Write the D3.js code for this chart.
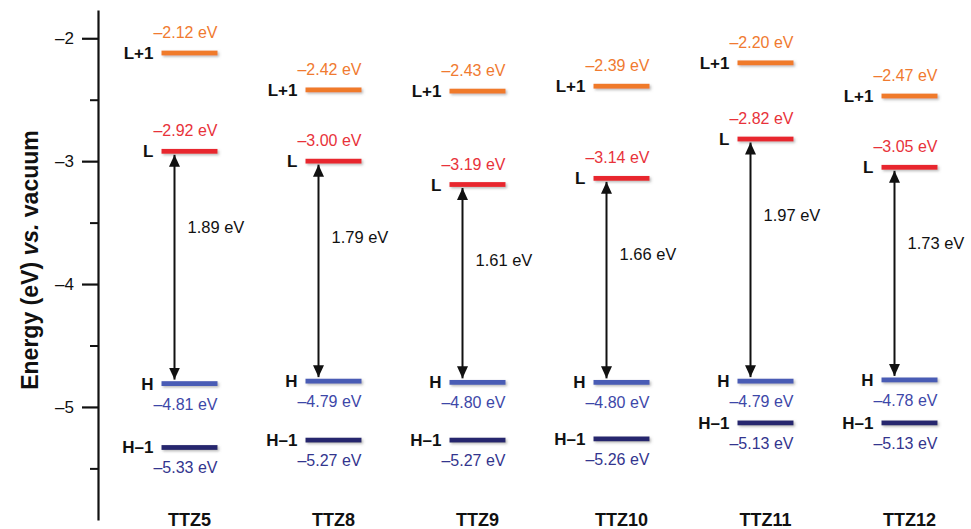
<!DOCTYPE html>
<html>
<head>
<meta charset="utf-8">
<script src="https://cdn.jsdelivr.net/npm/d3@7"></script>
<style>
  body { margin: 0; background: #fff; }
  svg { font-family: Arial, "Liberation Sans", sans-serif; }
</style>
</head>
<body>
<svg id="chart" width="971" height="529"></svg>
<script>
// molecules along the x axis
var molecules = ["TTZ5", "TTZ8", "TTZ9", "TTZ10", "TTZ11", "TTZ12"];

// orbital energies (eV)
var lumoPlus1 = [-2.12, -2.42, -2.43, -2.39, -2.20, -2.47];
var lumo = [-2.92, -3.00, -3.19, -3.14, -2.82, -3.05];
var homo = [-4.81, -4.79, -4.80, -4.80, -4.79, -4.78];
var homoMinus1 = [-5.33, -5.27, -5.27, -5.26, -5.13, -5.13];
var gaps = [1.89, 1.79, 1.61, 1.66, 1.97, 1.73];

var majorTicks = [-2, -3, -4, -5];
var minorTicks = [-2.5, -3.5, -4.5, -5.5];

// level rows: name, values, colours, where the value text goes
var levels = [
    {name: "L+1", values: lumoPlus1, line: "#f07a2c", text: "#f07a30", above: true},
    {name: "L", values: lumo, line: "#e8282e", text: "#e8323a", above: true},
    {name: "H", values: homo, line: "#4a5cb5", text: "#3d47a8", above: false},
    {name: "H\u20131", values: homoMinus1, line: "#28286e", text: "#33358e", above: false}
];

var svg = d3.select("#chart");
var levelWidth = 56,
    barThick = 4.8;

var y = d3.scaleLinear()
    .domain([-5.92, -1.77])
    .range([520, 10]);

var x = d3.scalePoint()
    .domain(molecules)
    .range([189.5, 909.5]);

function dash(v) {
    return String(v).replace("-", "\u2013");
}

// soft shadow under the level bars
var defs = svg.append("defs");
defs.append("filter")
    .attr("id", "shadow")
    .attr("x", "-10%").attr("y", "-100%")
    .attr("width", "130%").attr("height", "300%")
    .append("feDropShadow")
    .attr("dx", 1.5).attr("dy", 1.5)
    .attr("stdDeviation", 1)
    .attr("flood-color", "#777")
    .attr("flood-opacity", 0.5);

defs.append("marker")
    .attr("id", "head")
    .attr("markerUnits", "userSpaceOnUse")
    .attr("viewBox", "0 0 12 11")
    .attr("refX", 12).attr("refY", 5.5)
    .attr("markerWidth", 12).attr("markerHeight", 11)
    .attr("orient", "auto-start-reverse")
    .append("path")
    .attr("d", "M0,0 L12,5.5 L0,11 Z")
    .attr("fill", "#111");

// y axis, major + minor ticks
var yAxis = d3.axisLeft(y)
    .tickValues(majorTicks)
    .tickSize(16)
    .tickSizeOuter(0)
    .tickPadding(8)
    .tickFormat(dash);

var gAxis = svg.append("g")
    .attr("transform", "translate(98,0)")
    .call(yAxis);
gAxis.selectAll("text")
    .attr("font-size", 17)
    .attr("font-family", "Arial, 'Liberation Sans', sans-serif")
    .attr("fill", "#111");
gAxis.selectAll("line, path")
    .attr("stroke", "#111")
    .attr("stroke-width", 2.2);

var gMinor = svg.append("g")
    .attr("transform", "translate(98,0)")
    .call(d3.axisLeft(y).tickValues(minorTicks).tickSize(8).tickSizeOuter(0).tickFormat(""));
gMinor.select(".domain").remove();
gMinor.selectAll("line")
    .attr("stroke", "#111")
    .attr("stroke-width", 2);

// axis title
var title = svg.append("text")
    .attr("transform", "translate(38,260) rotate(-90)")
    .attr("text-anchor", "middle")
    .attr("font-size", 23)
    .attr("font-weight", "bold")
    .attr("fill", "#111");
title.append("tspan").text("Energy (eV) ");
title.append("tspan").attr("font-style", "italic").text("vs.");
title.append("tspan").text(" vacuum");

// one group per molecule
var mol = svg.selectAll(".mol")
    .data(molecules)
    .enter().append("g")
    .attr("class", "mol")
    .attr("transform", function(d) {
        return "translate(" + (x(d) - levelWidth / 2) + ",0)";
    });

levels.forEach(function(lev) {
    mol.append("rect")
        .attr("x", 0)
        .attr("width", levelWidth)
        .attr("y", function(d, i) { return y(lev.values[i]) - barThick / 2; })
        .attr("height", barThick)
        .attr("fill", lev.line)
        .attr("filter", "url(#shadow)");

    // orbital name left of the bar
    mol.append("text")
        .attr("x", -8)
        .attr("y", function(d, i) { return y(lev.values[i]) + 6; })
        .attr("text-anchor", "end")
        .attr("font-size", 17)
        .attr("font-weight", "bold")
        .attr("fill", "#111")
        .text(lev.name);

    // energy value above or below the bar
    mol.append("text")
        .attr("x", levelWidth)
        .attr("y", function(d, i) {
            return lev.above ? y(lev.values[i]) - 15 : y(lev.values[i]) + 26;
        })
        .attr("text-anchor", "end")
        .attr("font-size", 16)
        .attr("fill", lev.text)
        .text(function(d, i) { return dash(lev.values[i].toFixed(2)) + " eV"; });
});

// double arrow L <-> H with the gap value
mol.append("line")
    .attr("x1", 13).attr("x2", 13)
    .attr("y1", function(d, i) { return y(lumo[i]) + 3.5; })
    .attr("y2", function(d, i) { return y(homo[i]) - 4; })
    .attr("stroke", "#111")
    .attr("stroke-width", 2)
    .attr("marker-start", "url(#head)")
    .attr("marker-end", "url(#head)");

mol.append("text")
    .attr("x", 26)
    .attr("y", function(d, i) { return y(lumo[i] - 0.62); })
    .attr("dy", "0.35em")
    .attr("font-size", 16.5)
    .attr("fill", "#111")
    .text(function(d, i) { return gaps[i].toFixed(2) + " eV"; });

// molecule names along the bottom
svg.selectAll(".mname")
    .data(molecules)
    .enter().append("text")
    .attr("class", "mname")
    .attr("x", function(d) { return x(d); })
    .attr("y", 526)
    .attr("text-anchor", "middle")
    .attr("font-size", 18)
    .attr("font-weight", "bold")
    .attr("fill", "#111")
    .text(function(d) { return d; });
</script>
</body>
</html>
